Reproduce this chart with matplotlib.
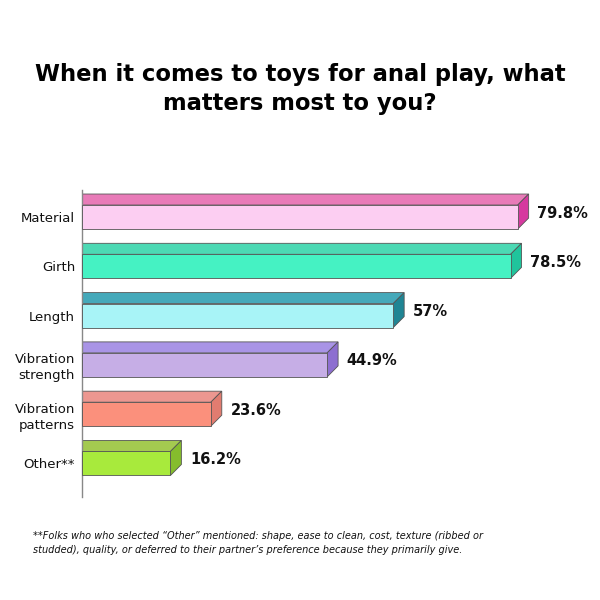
import matplotlib.pyplot as plt
from matplotlib.patches import Polygon

# data
categories = ['Material', 'Girth', 'Length', 'Vibration\nstrength', 'Vibration\npatterns', 'Other**']
values = [79.8, 78.5, 57, 44.9, 23.6, 16.2]
value_labels = ['79.8%', '78.5%', '57%', '44.9%', '23.6%', '16.2%']

front_colors = ['#FCCEF2', '#45F2C3', '#A8F4F7', '#C6AEE6', '#FB907C', '#A8EA3C']
top_colors = ['#E87BB8', '#4CD9B4', '#45A9BA', '#A994E6', '#EC9790', '#A4CA50']
side_colors = ['#D6399F', '#20C49C', '#1F8594', '#8D6FD0', '#E17C70', '#85BD2D']

title = 'When it comes to toys for anal play, what\nmatters most to you?'
footnote = ('**Folks who who selected \u201cOther\u201d mentioned: shape, ease to clean, cost, texture (ribbed or\n'
            'studded), quality, or deferred to their partner\u2019s preference because they primarily give.')

fig = plt.figure(figsize=(6, 6), dpi=100)
fig.patch.set_facecolor('white')

ax = fig.add_axes([82 / 600, 1 - 497 / 600, 516 / 600, 307 / 600])
ax.set_xlim(0, 94.5)
ax.set_ylim(5.68, -0.548)

bar_h = 0.487
dx = 2.0      # depth in % units
dy = 0.223    # depth in y units
edge = '#555555'
lw = 0.6

ypos = list(range(len(categories)))
ax.barh(ypos, values, height=bar_h, color=front_colors, edgecolor=edge, linewidth=lw, zorder=3)

for y, v, tc, sc, lab in zip(ypos, values, top_colors, side_colors, value_labels):
    top_edge = y - bar_h / 2
    bot_edge = y + bar_h / 2
    top = Polygon([(0, top_edge), (v, top_edge), (v + dx, top_edge - dy), (0, top_edge - dy)],
                  closed=True, facecolor=tc, edgecolor=edge, linewidth=lw, zorder=2)
    side = Polygon([(v, top_edge), (v + dx, top_edge - dy), (v + dx, bot_edge - dy), (v, bot_edge)],
                   closed=True, facecolor=sc, edgecolor=edge, linewidth=lw, zorder=2)
    ax.add_patch(top)
    ax.add_patch(side)
    ax.text(v + dx + 1.6, y - 0.08, lab, ha='left', va='center',
            fontsize=10.5, fontweight='bold', color='#111111')

ax.set_yticks(ypos)
ax.set_yticklabels(categories, fontsize=9.5, color='#111111', linespacing=1.3)
ax.tick_params(axis='y', length=0, pad=5)
ax.set_xticks([])
for s in ['top', 'right', 'bottom']:
    ax.spines[s].set_visible(False)
ax.spines['left'].set_color('#888888')
ax.spines['left'].set_linewidth(1)

fig.text(0.5, 1 - 89 / 600, title, ha='center', va='center', fontsize=16.3,
         fontweight='bold', color='#000000', linespacing=1.3)
fig.text(33 / 600, 1 - 543 / 600, footnote, ha='left', va='center', fontsize=7.0,
         style='italic', color='#111111', linespacing=1.6)

fig.savefig('out.png', dpi=100, facecolor='white')
